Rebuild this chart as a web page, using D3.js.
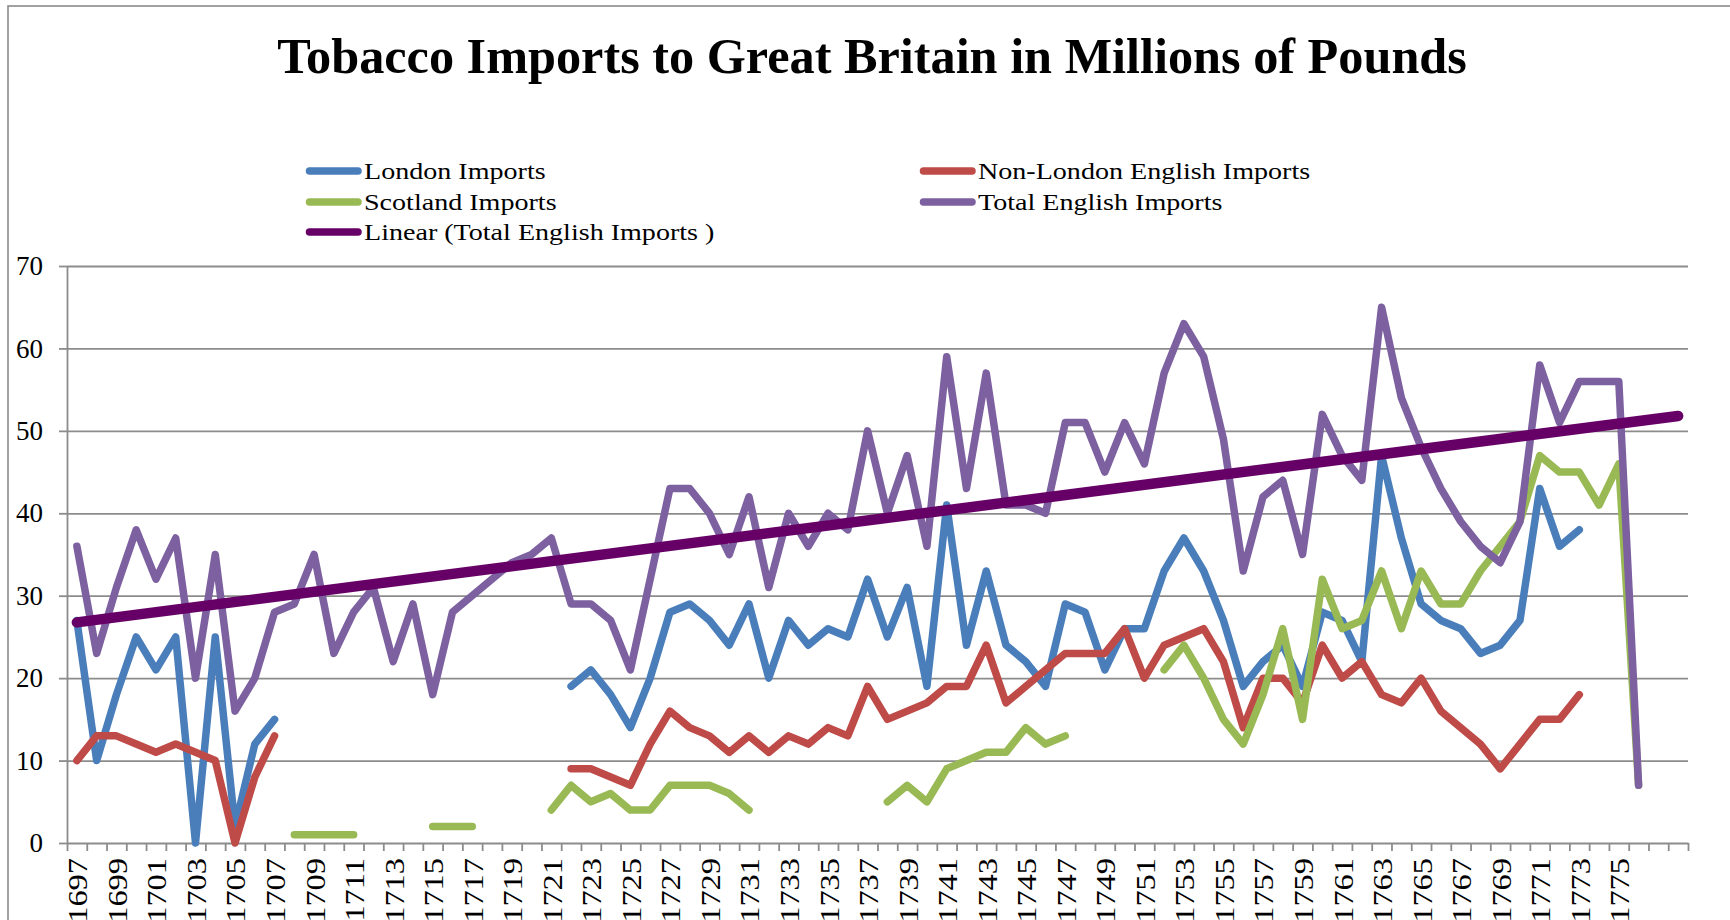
<!DOCTYPE html>
<html><head><meta charset="utf-8">
<script src="https://cdn.jsdelivr.net/npm/d3@7"></script>
<style>html,body{margin:0;padding:0;background:#fff;overflow:hidden}</style>
</head><body><svg id="c" width="1730" height="920"></svg>
<script>
// ---------- data ----------
const years = [1697,1698,1699,1700,1701,1702,1703,1704,1705,1706,
  1707,1708,1709,1710,1711,1712,1713,1714,1715,1716,
  1717,1718,1719,1720,1721,1722,1723,1724,1725,1726,
  1727,1728,1729,1730,1731,1732,1733,1734,1735,1736,
  1737,1738,1739,1740,1741,1742,1743,1744,1745,1746,
  1747,1748,1749,1750,1751,1752,1753,1754,1755,1756,
  1757,1758,1759,1760,1761,1762,1763,1764,1765,1766,
  1767,1768,1769,1770,1771,1772,1773,1774,1775,1776];
const forecastSlots = ["+1", "+2"]; // trendline forecast forward 2 periods (unlabelled)

const london = [27,10,18,25,21,25,0,25,2,12,
  15,null,null,null,null,null,null,null,null,null,
  null,null,null,null,null,19,21,18,14,20,
  28,29,27,24,29,20,27,24,26,25,
  32,25,31,19,41,24,33,24,22,19,
  29,28,21,26,26,33,37,33,27,19,
  22,24,19,28,27,22,47,37,29,27,
  26,23,24,27,43,36,38,null,null,null];
const nonLondon = [10,13,13,12,11,12,11,10,0,8,
  13,null,null,null,null,null,null,null,null,null,
  null,null,null,null,null,9,9,8,7,12,
  16,14,13,11,13,11,13,12,14,13,
  19,15,16,17,19,19,24,17,19,21,
  23,23,23,26,20,24,25,26,22,14,
  20,20,17,24,20,22,18,17,20,16,
  14,12,9,12,15,15,18,null,null,null];
const scotland = [null,null,null,null,null,null,null,null,null,null,
  null,1,1,1,1,null,null,null,2,2,
  2,null,null,null,4,7,5,6,4,4,
  7,7,7,6,4,null,null,null,null,null,
  null,5,7,5,9,10,11,11,14,12,
  13,null,null,null,null,21,24,20,15,12,
  18,26,15,32,26,27,33,26,33,29,
  29,33,36,39,47,45,45,41,46,7];
const totalEnglish = [36,23,31,38,32,37,20,35,16,20,
  28,29,35,23,28,31,22,29,18,28,
  30,32,34,35,37,29,29,27,21,32,
  43,43,40,35,42,31,40,36,40,38,
  50,40,47,36,59,43,57,41,41,40,
  51,51,45,51,46,57,63,59,49,33,
  42,44,35,52,47,44,65,54,48,43,
  39,36,34,39,58,51,56,56,56,7];

const yTicks = [0,10,20,30,40,50,60,70];
const xTickLabels = [1697,1699,1701,1703,1705,1707,1709,1711,1713,1715,1717,1719,
  1721,1723,1725,1727,1729,1731,1733,1735,1737,1739,1741,1743,1745,1747,1749,
  1751,1753,1755,1757,1759,1761,1763,1765,1767,1769,1771,1773,1775];

const seriesNames = ["London Imports","Non-London English Imports","Scotland Imports",
  "Total English Imports","Linear (Total English Imports )"];
const seriesColors = ["#4A7EBB","#BE4B48","#98B954","#7D60A0","#660066"];
const titleText = "Tobacco Imports to Great Britain in Millions of Pounds";

// ---------- layout ----------
const svg = d3.select("#c");
const X0 = 67, X1 = 1688, Y0 = 843, Y1 = 266;
const serif = "'Liberation Serif', 'Times New Roman', serif";
const gridColor = "#8C8C8C";

// chart border
svg.append("rect").attr("x", 8).attr("y", 6).attr("width", 1800).attr("height", 1000)
  .attr("fill", "none").attr("stroke", "#8A8A8A").attr("stroke-width", 1.6);

const domainCats = years.concat(forecastSlots);
const x = d3.scaleBand().domain(domainCats).range([X0, X1]).paddingInner(0).paddingOuter(0);
const xb = d3.scaleLinear().domain([0, domainCats.length]).range([X0, X1]);
const y = d3.scaleLinear().domain([0, 70]).range([Y0, Y1]);
const cx = i => x(domainCats[i]) + x.bandwidth() / 2;

// gridlines
const grid = svg.append("g").attr("transform", `translate(${X0},0)`)
  .call(d3.axisLeft(y).tickValues(yTicks.slice(1)).tickSize(-(X1 - X0)).tickFormat(""));
grid.select(".domain").remove();
grid.selectAll("line").attr("stroke", gridColor).attr("stroke-width", 1.8);

// y axis
const ya = svg.append("g").attr("transform", `translate(${X0},0)`)
  .call(d3.axisLeft(y).tickValues(yTicks).tickSize(8).tickSizeOuter(0).tickPadding(16));
ya.select(".domain").attr("stroke", gridColor).attr("stroke-width", 1.8);
ya.selectAll("line").attr("stroke", gridColor).attr("stroke-width", 1.8);
ya.selectAll("text").attr("font-family", serif).attr("font-size", 27).attr("fill", "#000");

// x axis ticks at category boundaries
const xt = svg.append("g").attr("transform", `translate(0,${Y0})`)
  .call(d3.axisBottom(xb).tickValues(d3.range(domainCats.length + 1)).tickSize(8).tickSizeOuter(0).tickFormat(""));
xt.select(".domain").attr("stroke", gridColor).attr("stroke-width", 1.8);
xt.selectAll("line").attr("stroke", gridColor).attr("stroke-width", 1.8);

// x labels (rotated)
const xl = svg.append("g").attr("transform", `translate(0,${Y0})`)
  .call(d3.axisBottom(x).tickValues(xTickLabels).tickSize(0).tickSizeOuter(0));
xl.select(".domain").remove();
xl.selectAll("text")
  .attr("font-family", serif).attr("font-size", 27).attr("fill", "#000")
  .attr("text-anchor", "end").attr("x", 0).attr("y", 0).attr("dy", "0.35em")
  .attr("transform", "translate(1,15) rotate(-90) scale(1.2,1)");

// series lines
const lineGen = d3.line().defined(d => d[1] != null).x(d => cx(d[0])).y(d => y(d[1]));
const allSeries = [london, nonLondon, scotland, totalEnglish];
allSeries.forEach((s, k) => {
  svg.append("path").datum(s.map((v, i) => [i, v]))
    .attr("d", lineGen).attr("fill", "none")
    .attr("stroke", seriesColors[k]).attr("stroke-width", 7.5)
    .attr("stroke-linejoin", "round").attr("stroke-linecap", "round");
});

// linear trendline (least squares on Total English Imports), forecast forward 2 periods
const pts = totalEnglish.map((v, i) => [i, v]).filter(d => d[1] != null);
const mx = d3.mean(pts, d => d[0]), my = d3.mean(pts, d => d[1]);
const slope = d3.sum(pts, d => (d[0] - mx) * (d[1] - my)) / d3.sum(pts, d => (d[0] - mx) ** 2);
const icpt = my - slope * mx;
const lastIdx = domainCats.length - 1;
svg.append("path").datum([[0, icpt], [lastIdx, icpt + slope * lastIdx]])
  .attr("d", lineGen).attr("fill", "none").attr("stroke", seriesColors[4])
  .attr("stroke-width", 10.5).attr("stroke-linecap", "round");

// title
const title = svg.append("text").text(titleText)
  .attr("font-family", serif).attr("font-weight", "bold").attr("font-size", 50)
  .attr("text-anchor", "middle").attr("fill", "#000");
const tw = title.node().getComputedTextLength();
const tfs = 50 * 1190 / tw;
title.attr("font-size", tfs).attr("x", 872).attr("y", 73);

// legend
const legendPos = [[306,171],[920,171],[306,202],[920,202],[306,232]];
const lg = svg.append("g");
seriesNames.forEach((name, k) => {
  const [lx, ly] = legendPos[k];
  lg.append("line").attr("x1", lx + 3.5).attr("x2", lx + 52).attr("y1", ly).attr("y2", ly)
    .attr("stroke", seriesColors[k]).attr("stroke-width", 7.5).attr("stroke-linecap", "round");
  lg.append("text").text(name).attr("font-family", serif).attr("font-size", 24).attr("fill", "#000")
    .attr("dy", "0.35em")
    .attr("transform", `translate(${lx + 58},${ly}) scale(1.17,1)`);
});
</script></body></html>
